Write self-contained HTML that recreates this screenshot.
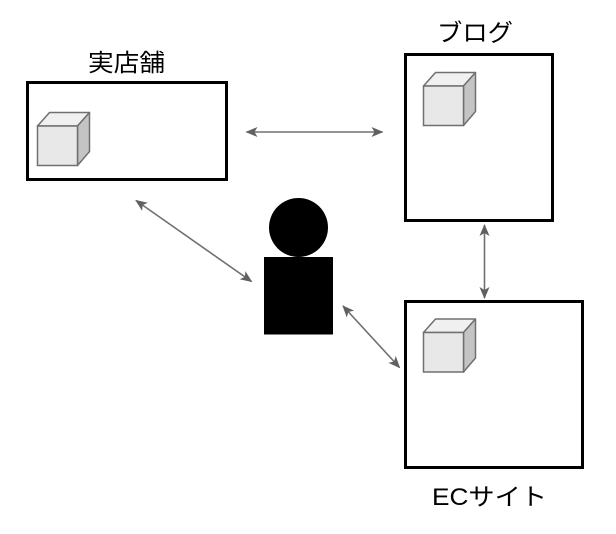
<!DOCTYPE html>
<html><head><meta charset="utf-8"><style>
html,body{margin:0;padding:0;background:#fff;}
svg{display:block;}
text{font-family:"Liberation Sans","Noto Sans CJK JP",sans-serif;font-size:24px;fill:#000;}
</style></head><body>
<svg width="616" height="534" viewBox="0 0 616 534" xmlns="http://www.w3.org/2000/svg">
<defs>
<marker id="ah" viewBox="0 0 12 10" refX="11" refY="5" markerWidth="12" markerHeight="10" markerUnits="userSpaceOnUse" orient="auto-start-reverse">
<path d="M0,0 L12,5 L0,10 L3,5 Z" fill="#606060"/>
</marker>
<g id="cube">
<path d="M0,13.5 L12,0 L52,0 L40,13.5 Z" fill="#f0f0f0" stroke="#707070" stroke-width="1.5" stroke-linejoin="round"/>
<path d="M40,13.5 L52,0 L52,39 L40,53 Z" fill="#c4c4c4" stroke="#707070" stroke-width="1.5" stroke-linejoin="round"/>
<rect x="0" y="13.5" width="40" height="39.5" fill="#e8e8e8" stroke="#707070" stroke-width="1.5"/>
</g>
</defs>

<!-- boxes -->
<rect x="27.5" y="82.5" width="199" height="97" fill="#fff" stroke="#000" stroke-width="3"/>
<rect x="405.5" y="54.5" width="147" height="166" fill="#fff" stroke="#000" stroke-width="3"/>
<rect x="405.5" y="301.5" width="177" height="166" fill="#fff" stroke="#000" stroke-width="3"/>

<!-- cubes -->
<use href="#cube" x="37.5" y="112.5"/>
<use href="#cube" x="423.5" y="72.5"/>
<use href="#cube" x="423.5" y="319"/>

<!-- labels -->
<text x="88" y="71" textLength="77" lengthAdjust="spacingAndGlyphs">実店舗</text>
<text x="437" y="41" textLength="76" lengthAdjust="spacingAndGlyphs">ブログ</text>
<text x="432" y="505" textLength="115" lengthAdjust="spacingAndGlyphs">ECサイト</text>

<!-- person -->
<circle cx="298.5" cy="227.5" r="29.5" fill="#000"/>
<rect x="264" y="257" width="69" height="77.5" fill="#000"/>

<!-- arrows -->
<g stroke="#707070" stroke-width="1.6" fill="none">
<line x1="246.5" y1="132" x2="382.5" y2="132" marker-start="url(#ah)" marker-end="url(#ah)"/>
<line x1="136" y1="200.5" x2="251.5" y2="281.5" marker-start="url(#ah)" marker-end="url(#ah)"/>
<line x1="343" y1="306" x2="399.5" y2="367.5" marker-start="url(#ah)" marker-end="url(#ah)"/>
<line x1="484.5" y1="225" x2="484.5" y2="298" marker-start="url(#ah)" marker-end="url(#ah)"/>
</g>
</svg>
</body></html>
